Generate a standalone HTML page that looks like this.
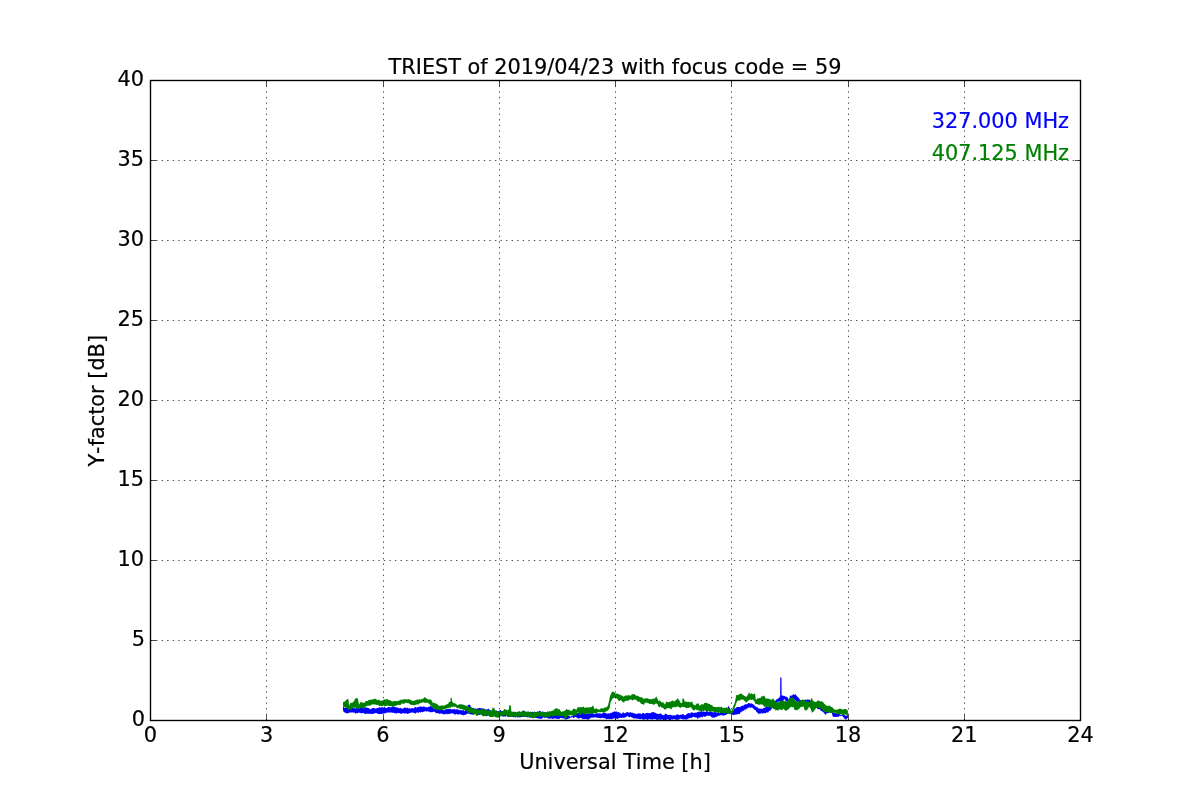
<!DOCTYPE html><html><head><meta charset="utf-8"><style>html,body{margin:0;padding:0;background:#fff;}svg{display:block;will-change:transform;}text{font-family:"DejaVu Sans","Liberation Sans",sans-serif;font-kerning:none;stroke:currentColor;stroke-width:0.2px;}</style></head><body><svg width="1200" height="800" viewBox="0 0 1200 800"><rect width="1200" height="800" fill="#fff"/><defs><clipPath id="c"><rect x="150" y="80" width="930" height="640"/></clipPath></defs><g clip-path="url(#c)"><polygon points="342.99,707.03 343.54,706.75 344.64,707.88 345.74,707.39 345.87,707.56 346.84,707.31 347.94,707.64 349.04,706.93 350.14,707.62 351.24,707.29 352.34,708.09 353.44,707.82 353.75,707.82 354.54,708.37 355.64,708.42 356.74,707.55 357.84,707.49 358.94,708.48 360.04,707.83 361.14,707.22 362.24,707.14 363.34,708.56 364.25,707.82 364.44,707.94 365.54,707.15 366.64,707.84 367.74,707.83 367.92,707.82 368.84,708.18 369.50,708.61 369.94,709.26 371.04,709.21 372.14,707.91 373.24,707.90 374.34,708.23 374.75,708.35 375.44,708.71 376.54,708.17 377.64,708.11 378.74,707.66 379.84,706.89 379.99,707.30 380.94,707.82 382.04,706.67 383.14,707.75 384.24,707.05 385.24,707.56 385.34,707.51 386.44,708.21 387.54,707.50 388.64,706.72 389.74,707.23 390.49,707.30 390.84,707.54 391.94,706.63 393.04,706.93 394.14,706.57 395.24,707.36 395.74,707.30 396.34,707.26 397.44,707.70 398.54,707.64 399.64,708.44 400.25,708.35 400.74,707.78 401.84,708.72 402.94,708.63 404.04,707.77 405.14,707.56 405.50,707.56 406.24,708.25 407.34,707.61 408.44,708.60 409.54,708.05 410.64,708.92 410.75,708.61 411.74,708.11 412.84,708.24 413.94,708.45 415.04,706.87 416.00,707.30 416.14,707.74 417.24,707.24 418.34,706.88 419.44,706.73 420.54,706.20 421.25,706.77 421.64,706.41 422.74,706.96 423.84,706.17 424.94,707.03 426.04,707.47 426.50,706.77 427.14,707.40 428.24,707.09 429.34,706.81 430.44,705.70 431.54,706.72 431.75,705.98 432.64,706.65 432.80,707.30 433.74,708.32 434.84,708.88 435.94,709.05 436.99,709.40 437.04,709.43 438.14,709.06 439.24,709.65 440.34,709.42 441.44,709.28 442.24,709.92 442.54,709.33 443.64,710.23 444.74,710.31 445.84,709.02 446.94,708.72 447.49,709.40 448.04,709.04 449.14,708.85 450.24,708.93 451.34,709.52 452.44,709.28 453.54,709.29 454.64,708.95 455.74,709.64 456.84,709.08 457.25,709.40 457.94,709.38 459.04,709.70 460.14,710.58 461.24,709.81 462.34,710.74 462.50,710.45 463.44,710.11 464.54,710.92 465.64,710.11 466.74,710.22 467.22,710.18 467.75,704.41 467.84,704.99 468.94,704.82 469.85,704.67 470.04,704.54 470.90,707.30 471.14,706.86 472.24,708.63 473.34,707.67 474.44,708.57 475.54,710.05 475.62,709.40 476.64,708.44 477.74,708.42 478.84,708.25 479.94,707.82 480.35,708.35 481.04,708.13 481.40,708.08 482.14,708.47 483.24,708.42 484.34,708.48 484.55,709.13 485.44,709.60 486.54,709.59 487.64,709.23 488.74,708.59 488.75,709.13 489.84,709.74 490.94,710.42 491.90,710.71 492.04,710.61 493.14,711.37 494.24,710.76 495.34,711.04 496.44,710.54 497.54,711.32 497.67,711.23 498.64,711.15 499.74,710.55 500.29,709.92 500.84,709.88 501.94,711.64 502.92,711.50 503.04,711.83 504.14,711.38 505.24,711.37 506.34,711.92 507.12,711.50 507.44,711.03 508.54,711.80 509.64,712.00 510.74,711.77 511.84,712.39 512.94,711.86 514.04,711.93 515.14,711.73 516.24,712.76 517.34,711.94 518.44,712.58 519.54,712.23 520.64,713.10 521.74,713.19 522.12,712.55 522.84,710.41 523.17,710.45 523.94,711.32 524.75,710.71 525.04,711.37 525.80,712.55 526.14,711.88 527.24,712.44 528.34,711.69 529.44,712.36 530.54,711.74 531.64,711.93 532.74,711.76 533.84,712.13 534.94,712.38 536.04,712.47 537.14,711.48 538.24,711.76 539.34,710.84 540.44,711.31 540.50,711.50 541.54,712.36 542.64,711.28 543.74,712.59 544.84,712.45 545.94,712.09 547.04,713.00 548.14,712.45 549.24,713.55 550.34,712.51 551.44,712.75 552.54,713.88 553.64,713.61 554.74,713.34 555.84,714.07 556.24,714.12 556.94,713.82 558.04,714.19 558.87,714.12 559.14,714.52 560.24,714.84 561.34,713.79 562.44,714.74 563.54,715.47 564.64,714.83 565.74,715.44 566.74,715.17 566.84,714.59 567.94,716.01 569.04,715.83 570.14,716.54 571.24,716.65 571.25,716.22 572.34,716.34 573.44,714.68 574.54,715.23 575.64,714.01 576.50,714.12 576.74,713.63 577.84,713.05 578.94,712.79 579.12,712.55 580.04,712.86 581.14,713.46 582.24,712.23 583.34,712.65 584.44,713.05 585.54,713.88 586.64,713.62 587.00,713.60 587.74,713.61 588.84,713.99 589.94,713.83 591.04,713.28 592.14,712.98 593.24,713.54 594.34,714.17 595.44,713.74 596.54,712.93 597.50,713.60 597.64,713.49 598.74,713.31 599.84,713.50 600.94,713.40 602.04,713.85 603.14,712.82 604.24,712.83 605.34,713.03 605.90,712.81 606.44,713.59 607.54,713.73 607.99,713.60 608.64,713.34 609.74,713.49 610.84,712.63 611.14,712.55 611.94,713.04 613.04,711.75 613.24,712.02 614.14,711.24 615.24,712.02 615.34,711.50 616.34,711.36 617.44,712.37 618.49,712.02 618.54,712.22 619.64,712.83 620.74,712.97 621.12,713.86 621.84,713.93 622.94,712.30 623.74,712.55 624.04,713.28 625.14,713.31 625.62,712.81 626.24,712.39 627.34,711.91 628.25,712.28 628.44,712.88 629.54,712.38 630.64,711.96 630.87,712.55 631.74,712.80 632.84,712.76 633.50,713.33 633.94,713.22 635.04,713.62 636.14,714.09 637.24,713.97 638.34,713.07 638.75,713.60 639.44,713.53 640.54,713.49 641.64,714.19 642.74,712.78 643.84,713.36 644.00,713.33 644.94,713.91 646.04,713.08 647.14,712.82 648.24,713.21 649.25,713.07 649.34,712.79 650.44,713.59 651.54,712.22 652.64,712.29 653.74,712.00 654.50,712.55 654.84,713.00 655.94,712.81 657.04,714.16 657.12,713.60 658.14,714.08 659.24,714.04 659.75,713.33 660.34,713.38 661.44,713.77 662.37,715.17 662.54,714.94 663.64,715.36 664.74,714.62 664.99,714.12 665.84,713.50 666.94,714.52 668.04,714.90 669.14,715.03 670.24,714.71 670.24,714.38 671.34,715.27 672.44,715.58 673.54,715.20 674.44,715.70 674.64,715.01 675.74,715.50 676.84,714.15 677.59,714.38 677.94,714.24 679.04,715.25 680.14,714.68 680.74,714.65 681.24,714.54 682.34,714.87 682.62,714.12 683.44,714.04 684.54,715.44 685.25,714.91 685.64,715.33 686.74,713.96 687.84,713.36 687.87,713.60 688.94,712.82 690.04,713.79 690.50,713.07 691.14,712.54 692.24,712.16 693.12,712.81 693.34,713.37 694.44,712.82 695.54,712.82 695.75,712.55 696.64,712.81 697.74,711.66 698.37,712.28 698.84,711.53 699.94,711.81 701.00,711.50 701.04,710.82 702.14,711.50 703.24,711.85 704.34,711.73 705.44,711.67 706.25,711.50 706.54,710.84 707.64,711.24 708.74,712.34 709.84,711.29 710.94,712.01 712.04,711.40 713.14,712.84 714.24,711.80 715.34,712.27 716.44,712.59 716.75,712.55 717.54,712.79 718.64,713.01 719.74,712.60 720.84,711.91 721.94,711.39 723.04,712.23 724.14,712.52 725.24,710.97 726.34,712.00 727.24,711.50 727.44,709.95 728.29,705.72 728.54,706.07 729.64,707.99 729.87,708.35 730.74,710.25 731.44,711.50 731.84,712.43 732.49,712.02 732.94,711.53 734.04,709.16 734.59,708.35 735.14,708.40 736.24,707.47 736.69,707.30 737.34,707.11 738.44,706.94 739.54,707.04 740.12,707.00 740.64,706.47 741.74,705.97 742.84,705.39 743.25,705.75 743.94,705.25 745.04,704.37 746.14,704.52 746.38,703.88 747.24,704.14 748.34,703.05 749.44,703.14 749.50,702.94 750.54,703.85 751.64,703.37 752.62,703.88 752.74,704.05 753.84,704.76 754.94,705.95 755.75,706.38 756.04,707.24 757.14,706.67 758.24,708.57 758.88,708.25 759.34,708.54 760.44,708.85 761.54,708.72 762.00,708.56 762.64,708.93 763.74,707.78 764.84,708.02 765.12,707.62 765.94,706.87 767.04,706.68 768.14,706.39 768.25,706.06 769.24,705.37 770.34,704.88 770.75,705.44 771.44,705.13 772.54,703.97 773.64,702.56 774.50,701.38 774.74,700.92 775.84,700.54 776.94,698.80 777.62,698.88 778.04,698.71 779.14,697.48 780.12,696.38 780.24,679.77 780.25,677.62 781.34,677.55 781.50,677.62 781.62,695.75 782.44,695.34 783.54,696.09 783.88,695.75 784.64,696.00 785.74,696.86 786.84,696.73 787.00,697.00 787.94,697.94 788.88,700.12 789.04,699.58 790.12,695.44 790.14,695.62 791.24,695.74 792.34,695.36 793.25,694.50 793.44,693.84 794.54,694.91 795.64,694.14 795.88,694.50 796.74,695.94 797.75,697.00 797.84,696.93 798.94,698.22 800.04,699.84 800.25,700.12 801.14,700.11 802.24,700.27 803.34,700.11 804.44,700.09 805.54,699.57 806.64,699.93 807.74,699.36 808.84,699.67 809.00,699.50 809.94,699.96 811.04,700.73 812.14,700.52 813.24,701.85 814.34,702.04 814.62,702.62 815.44,703.27 816.54,703.90 817.64,705.87 818.74,707.33 819.00,707.00 819.84,707.28 820.94,707.57 822.04,709.00 823.14,708.92 824.24,710.73 825.25,710.75 825.34,710.19 826.44,710.66 827.54,710.97 828.64,710.52 829.74,710.93 830.84,710.97 831.50,711.38 831.94,711.87 833.04,712.72 834.14,712.22 835.24,713.31 836.34,712.77 837.44,713.87 837.75,713.88 838.54,713.93 839.64,713.93 840.74,714.95 841.84,715.06 842.94,714.36 844.00,715.12 844.04,714.81 845.14,715.60 846.24,715.86 847.34,715.29 848.06,715.12 848.06,718.25 847.75,718.25 847.34,717.80 846.24,719.68 845.88,719.50 845.14,719.34 844.04,718.18 844.00,718.25 842.94,716.56 841.84,715.66 841.50,715.75 840.74,715.91 839.64,715.73 838.54,716.96 837.75,716.38 837.44,716.69 836.34,717.09 835.24,716.88 834.14,716.84 833.04,716.72 832.75,716.38 831.94,713.36 831.50,712.62 830.84,713.09 829.74,712.32 828.64,713.29 828.38,712.62 827.54,713.25 826.44,713.55 825.34,715.15 825.25,714.50 824.24,713.26 823.14,712.06 822.12,711.38 822.04,711.29 820.94,710.71 819.84,709.33 819.00,708.88 818.74,709.35 817.64,708.94 816.54,707.40 815.88,707.62 815.44,707.23 814.34,706.93 813.24,706.92 812.75,707.00 812.14,706.59 811.04,706.95 809.94,706.52 808.84,706.36 807.74,705.46 806.64,706.28 806.50,705.75 805.54,706.20 804.44,704.73 803.34,705.60 802.24,704.59 801.14,703.94 800.25,704.50 800.04,705.10 799.00,703.88 798.94,703.73 797.84,701.90 797.12,701.38 796.74,701.92 795.64,700.42 794.54,699.44 793.44,699.13 793.25,699.50 792.34,699.26 791.24,700.13 790.14,699.21 790.12,699.50 789.04,701.78 788.25,703.25 787.94,702.38 787.00,701.38 786.84,701.50 785.74,700.98 784.64,698.98 784.50,699.50 783.54,699.75 782.44,701.20 781.34,701.68 780.75,701.38 780.24,701.15 779.14,701.55 778.04,702.02 777.62,701.38 776.94,702.86 775.84,703.62 774.74,705.86 774.50,705.75 773.64,707.13 772.54,707.52 771.44,709.09 771.38,708.88 770.34,710.72 769.24,710.80 768.25,712.62 768.14,712.66 767.04,712.26 765.94,712.87 765.12,713.56 764.84,713.27 763.74,712.69 762.64,714.00 762.00,713.25 761.54,712.78 760.44,713.80 759.34,713.61 758.88,714.50 758.24,713.21 757.14,712.56 756.04,711.13 755.75,710.12 754.94,710.22 753.84,709.36 752.74,707.86 752.62,707.94 751.64,707.14 750.54,708.11 749.50,707.31 749.44,706.73 748.34,708.04 747.24,708.31 746.38,708.88 746.14,709.67 745.04,709.35 743.94,710.47 743.25,710.75 742.84,711.32 741.74,711.52 740.64,712.19 740.12,713.25 739.54,714.21 738.44,713.66 737.74,714.38 737.34,714.30 736.24,714.46 735.14,714.54 735.12,714.65 734.04,715.07 732.94,715.14 732.49,714.38 731.84,714.45 730.74,713.86 729.87,713.60 729.64,713.45 728.54,713.47 727.44,713.80 727.24,714.12 726.34,714.70 725.24,714.88 724.62,715.70 724.14,715.02 723.04,715.80 721.99,715.17 721.94,714.81 720.84,715.17 719.74,715.54 718.64,715.67 717.54,716.37 716.75,716.75 716.44,716.80 715.34,717.29 714.24,717.74 714.12,717.80 713.14,717.54 712.04,717.80 711.50,717.27 710.94,716.40 710.45,715.70 709.84,715.77 708.74,716.04 707.64,715.44 706.54,715.82 706.25,716.22 705.44,716.85 704.34,716.85 703.24,716.22 702.14,717.41 701.04,716.49 701.00,717.01 699.94,717.77 698.84,717.48 697.74,718.91 697.32,718.58 696.64,717.49 695.75,717.27 695.54,717.52 694.44,717.28 693.34,716.83 692.24,717.21 691.14,718.47 690.50,717.80 690.04,717.71 688.94,718.23 687.87,719.11 687.84,718.40 686.74,719.73 685.64,719.26 685.25,719.37 684.54,719.13 683.44,719.49 682.62,719.11 682.34,719.14 681.24,718.76 680.14,718.49 679.04,719.53 677.94,719.71 676.84,719.79 675.74,719.66 674.64,718.97 673.54,719.32 672.44,719.44 671.34,719.14 670.24,720.31 669.14,720.31 668.04,719.09 666.94,719.60 665.84,719.91 664.99,719.90 664.74,719.59 663.64,720.61 662.54,719.16 661.44,719.45 660.34,719.82 659.75,719.90 659.24,719.15 658.14,719.64 657.04,720.05 655.94,719.31 654.84,719.05 654.50,719.37 653.74,718.99 652.64,719.40 651.54,719.40 650.44,719.27 649.34,719.03 648.24,719.49 647.14,720.04 646.04,718.72 644.94,719.70 644.00,719.37 643.84,719.71 642.74,719.55 641.64,718.75 640.54,719.30 639.44,718.96 638.75,718.85 638.34,719.06 637.24,718.54 636.14,718.77 635.04,718.17 633.94,718.55 633.50,718.58 632.84,717.90 631.74,717.24 630.87,717.27 630.64,716.50 629.54,717.38 628.44,716.75 628.25,716.48 627.34,716.02 626.24,717.10 625.62,716.75 625.14,717.46 624.04,718.09 623.74,718.06 622.94,717.42 621.84,718.09 620.74,717.79 619.64,718.11 618.54,718.21 618.49,718.58 617.44,719.01 616.39,718.85 616.34,718.31 615.24,718.74 614.29,718.06 614.14,718.34 613.04,718.79 611.94,719.09 610.84,719.18 610.62,718.85 609.74,719.23 608.64,718.92 607.54,719.09 606.94,719.11 606.44,719.39 605.34,718.15 604.24,718.26 603.14,718.10 602.75,717.80 602.04,717.82 600.94,718.09 600.12,718.58 599.84,718.32 598.74,717.85 597.64,717.76 597.50,717.80 596.54,717.65 595.44,717.14 594.34,717.54 593.24,717.61 592.25,717.80 592.14,717.40 591.04,717.65 589.94,718.51 588.84,719.21 587.74,719.71 587.00,719.37 586.64,718.88 585.54,719.17 584.44,719.05 583.34,719.17 582.24,719.01 581.75,718.32 581.14,717.96 580.04,717.70 578.94,718.86 578.07,718.58 577.84,718.16 576.74,717.41 576.50,717.53 575.64,716.94 574.54,717.30 573.44,718.19 572.34,716.99 571.25,717.80 571.24,717.61 570.14,717.78 569.04,718.72 568.62,718.58 567.94,718.90 566.84,719.22 565.74,719.14 564.64,719.12 563.54,718.34 562.44,718.18 561.49,718.32 561.34,717.83 560.24,717.91 559.14,719.05 558.04,719.07 556.94,718.53 556.24,718.85 555.84,718.78 554.74,718.34 553.64,718.53 553.62,718.58 552.54,718.95 551.44,718.28 550.34,718.69 549.24,718.45 548.14,718.39 547.04,717.94 545.94,717.26 545.75,717.53 544.84,718.28 543.74,717.18 542.64,717.82 541.54,718.77 540.44,719.02 539.34,718.26 538.40,718.85 538.24,718.86 537.14,718.08 536.04,717.97 535.25,717.80 534.94,717.83 533.84,718.20 532.74,717.10 531.64,716.93 530.54,718.08 529.44,717.36 528.34,717.25 527.24,717.35 526.14,716.99 525.04,716.93 523.94,716.69 522.84,716.91 521.74,716.63 520.64,717.27 519.54,717.50 518.44,717.08 517.34,717.79 516.24,716.58 515.14,716.93 514.04,717.24 512.94,717.12 511.84,716.72 510.74,716.18 509.64,717.02 508.69,716.75 508.54,717.17 507.44,716.39 506.34,715.81 505.24,717.05 504.49,716.22 504.14,716.41 503.04,716.75 501.94,715.68 500.84,715.47 499.74,715.76 498.64,715.98 497.54,716.77 496.44,716.42 495.34,716.00 494.24,715.99 493.99,716.22 493.14,716.28 492.04,716.66 490.94,716.37 489.84,715.50 488.74,714.99 487.64,715.86 486.54,716.21 485.44,715.75 484.34,714.93 483.50,715.17 483.24,714.85 482.14,714.51 481.04,714.25 479.94,715.03 478.84,714.77 477.74,714.67 476.64,714.22 475.62,714.12 475.54,713.80 474.44,713.72 473.34,714.98 473.00,714.65 472.24,714.45 471.14,714.15 470.37,714.38 470.04,714.19 468.94,713.79 467.84,713.35 467.75,713.60 466.74,714.20 465.64,714.76 465.12,714.38 464.54,714.88 463.44,715.43 462.34,714.60 461.45,715.17 461.24,714.67 460.14,714.33 459.04,714.32 457.94,714.50 457.25,714.38 456.84,713.64 455.74,714.48 454.64,714.51 453.54,713.78 452.74,713.33 452.44,713.30 451.34,713.53 450.24,713.57 450.12,713.60 449.14,714.21 448.04,713.65 447.49,714.12 446.94,714.50 445.84,713.55 444.87,714.38 444.74,714.31 443.64,714.49 442.54,713.55 442.24,714.12 441.44,713.49 440.34,713.50 439.62,713.60 439.24,714.26 438.14,712.90 437.04,713.08 436.47,713.60 435.94,713.28 434.84,711.84 433.74,711.88 433.32,711.23 432.64,712.31 431.75,712.02 431.54,712.06 430.44,712.59 429.34,711.76 428.24,711.62 427.14,711.20 426.50,711.76 426.04,711.17 424.94,711.30 423.84,711.65 422.74,711.98 421.64,712.29 421.25,711.76 420.54,712.63 419.44,711.67 418.34,713.15 417.24,712.35 416.14,712.79 416.00,713.07 415.04,713.76 413.94,712.68 412.84,712.62 411.74,712.40 410.75,712.81 410.64,712.86 409.54,713.07 408.44,713.64 408.12,713.86 407.34,714.07 406.24,713.31 405.50,713.07 405.14,713.66 404.04,713.60 402.94,712.71 401.84,714.11 400.74,713.39 400.25,713.60 399.64,712.89 398.54,713.36 397.44,712.76 396.34,713.75 395.24,713.13 394.14,712.97 393.12,712.55 393.04,713.08 391.94,712.49 390.84,712.46 389.74,712.70 388.64,712.25 387.87,712.81 387.54,712.60 386.44,712.78 385.34,713.21 384.24,713.61 383.14,713.21 382.62,713.60 382.04,714.09 380.94,713.89 379.84,713.97 378.74,713.94 377.64,714.08 377.37,713.60 376.54,712.88 375.44,713.24 374.75,712.81 374.34,713.44 373.24,713.93 372.14,714.07 372.12,713.60 371.04,714.17 369.94,713.44 368.84,713.90 367.74,713.47 367.40,714.12 366.64,713.53 365.54,714.18 364.44,713.48 364.25,713.60 363.34,712.95 362.24,713.14 361.14,713.23 360.04,712.99 359.00,712.55 358.94,712.16 357.84,713.32 356.74,713.11 355.64,713.80 355.32,713.60 354.54,712.58 353.44,712.73 352.34,712.18 351.24,712.70 351.12,712.02 350.14,712.63 349.04,712.72 347.94,712.97 347.45,713.60 346.84,713.51 345.74,713.10 344.82,712.28 344.64,712.82 343.54,711.55 342.99,710.45" fill="#0000ff"/><polygon points="342.99,702.05 343.54,701.92 344.64,701.70 344.82,701.00 345.74,700.77 346.84,699.18 347.45,699.16 347.94,698.98 348.50,699.42 349.02,705.20 349.04,705.74 350.07,703.62 350.14,702.84 351.24,703.33 351.65,702.57 352.34,702.67 353.44,701.63 353.75,701.52 354.54,700.04 355.64,698.36 355.85,698.37 356.37,698.11 356.74,697.92 357.84,698.76 357.95,698.90 358.94,704.35 359.00,704.67 360.04,703.06 361.10,701.26 361.14,702.04 362.24,702.65 362.67,702.57 363.34,702.76 364.25,702.57 364.44,703.19 365.54,701.37 366.64,700.63 366.87,701.00 367.74,700.91 368.84,699.72 369.50,700.21 369.94,699.38 371.04,699.77 372.12,699.42 372.14,699.37 373.24,699.60 374.34,698.73 374.75,698.37 375.44,698.88 376.54,699.62 377.37,700.21 377.64,699.88 378.74,699.75 379.84,700.24 379.99,700.73 380.94,701.02 382.04,700.29 382.62,700.73 383.14,700.28 384.24,699.18 385.24,699.42 385.34,699.92 386.44,698.90 387.54,699.07 387.87,699.42 388.64,700.22 389.74,700.00 390.49,700.21 390.84,700.90 391.94,701.14 393.04,701.84 393.12,701.52 394.14,700.71 395.24,701.16 395.74,701.00 396.34,701.01 397.44,701.55 397.62,701.00 398.54,700.52 399.64,700.54 400.25,700.21 400.74,699.45 401.84,699.72 402.87,699.69 402.94,699.41 404.04,698.93 405.14,699.71 405.50,699.16 406.24,698.91 407.34,699.69 408.12,698.90 408.44,699.13 409.54,699.48 410.64,699.86 410.75,699.69 411.74,700.69 412.84,700.73 412.85,701.26 413.94,700.81 415.04,700.14 416.00,700.21 416.14,700.02 417.24,699.23 418.34,700.21 418.62,699.42 419.44,699.00 420.54,699.68 421.25,699.42 421.64,698.86 422.74,698.99 423.84,697.94 424.40,697.32 424.94,696.97 426.04,698.46 426.50,698.11 427.14,699.03 428.24,699.41 429.12,699.16 429.34,699.39 430.44,699.42 431.54,700.15 431.75,700.73 432.64,702.38 433.74,703.05 433.85,703.10 434.84,702.78 435.94,704.02 436.99,703.62 437.04,703.88 438.14,705.01 439.09,705.98 439.24,705.79 440.34,705.75 441.44,705.40 442.24,705.72 442.54,704.97 443.64,706.01 444.74,705.17 444.87,705.20 445.84,704.88 446.94,704.10 447.49,704.15 448.04,703.98 449.14,701.79 449.59,702.05 450.24,701.86 450.38,702.05 450.64,698.11 451.34,697.41 451.69,698.11 452.22,702.05 452.44,701.58 453.54,703.32 454.62,703.10 454.64,703.34 455.74,703.77 456.84,704.68 457.25,704.93 457.94,705.29 459.04,704.16 459.87,704.15 460.14,704.31 461.24,704.56 462.34,704.18 462.50,704.41 463.44,704.63 464.54,705.21 465.12,704.93 465.64,705.91 466.74,705.54 467.75,706.77 467.84,707.44 468.94,706.27 470.04,707.61 470.37,707.30 471.14,708.07 472.24,707.50 473.00,708.35 473.34,708.26 474.44,708.96 475.54,707.87 475.62,708.61 476.64,709.21 477.74,709.89 478.25,709.66 478.84,709.62 479.94,709.83 480.87,709.40 481.04,708.99 482.14,708.94 483.24,709.19 483.50,709.40 484.34,709.08 485.44,709.55 486.12,709.92 486.54,710.64 487.64,710.18 488.74,709.94 488.75,710.18 489.84,709.92 490.94,711.03 492.04,710.35 492.16,710.45 492.42,707.30 493.14,708.14 493.99,707.56 494.24,708.19 495.04,710.18 495.34,710.30 496.44,711.20 497.54,711.30 497.67,710.97 498.64,711.21 499.74,711.12 500.84,711.93 501.87,711.50 501.94,711.30 503.04,710.96 503.97,709.40 504.14,708.78 505.24,709.50 506.34,709.82 507.12,709.92 507.44,710.55 508.54,709.35 508.96,709.66 509.22,704.93 509.64,705.46 510.74,705.45 510.84,705.20 511.36,711.23 511.84,711.65 512.94,711.71 514.04,712.43 514.25,711.76 515.14,711.77 516.24,712.20 516.87,712.55 517.34,711.92 518.44,711.25 519.50,711.50 519.54,711.06 520.64,711.89 521.74,711.56 522.12,710.97 522.84,710.53 523.94,711.49 524.75,711.50 525.04,711.46 526.14,711.64 527.24,711.73 527.37,711.50 528.34,711.30 529.44,712.39 530.00,711.76 530.54,711.87 531.64,712.44 532.62,712.55 532.74,712.73 533.84,711.83 534.94,711.43 535.25,712.02 536.04,711.81 537.14,712.23 537.87,711.76 538.24,712.19 539.34,711.96 540.44,710.92 540.50,711.50 541.54,712.12 542.64,711.95 543.12,711.50 543.74,712.31 544.84,712.22 545.75,712.55 545.94,713.13 547.04,711.61 548.14,711.36 548.37,712.02 549.24,711.13 550.34,711.26 550.99,711.50 551.44,710.94 552.54,710.41 553.62,710.45 553.64,710.53 554.74,708.86 555.84,708.81 556.24,708.35 556.94,708.05 558.04,709.15 558.87,709.13 559.14,708.72 560.24,710.39 560.97,711.50 561.34,712.09 562.44,711.31 563.54,711.54 564.12,710.97 564.64,710.82 565.74,709.92 566.22,709.40 566.84,709.07 567.94,709.88 568.62,709.92 569.04,709.31 570.14,710.68 571.24,711.13 571.25,710.45 572.34,710.16 573.35,708.87 573.44,708.23 574.54,709.03 575.64,709.36 576.50,709.92 576.74,708.82 577.84,707.21 578.07,706.51 578.94,707.39 579.65,707.30 580.04,706.92 581.14,707.47 581.75,706.77 582.24,707.32 583.34,706.53 584.37,707.30 584.44,707.70 585.54,707.99 586.64,707.07 587.00,707.56 587.74,707.60 588.84,707.58 589.62,707.30 589.94,707.46 591.04,706.69 591.98,707.30 592.14,706.62 592.25,705.72 593.24,705.67 593.30,705.46 594.34,709.33 594.35,708.87 595.44,709.05 596.45,708.35 596.54,708.12 597.64,709.13 598.55,709.13 598.74,709.66 599.84,709.56 600.94,708.33 602.04,707.99 602.75,708.61 603.14,708.67 604.24,707.56 605.34,707.62 605.90,707.30 606.44,707.56 607.54,705.88 607.99,705.72 608.64,702.46 609.04,701.00 609.74,697.47 610.09,695.75 610.84,694.50 611.67,692.60 611.94,691.80 612.72,691.81 613.04,691.79 614.14,691.97 614.29,692.60 615.24,693.47 615.87,693.65 616.34,694.07 617.44,693.20 617.44,693.39 618.49,694.17 618.54,694.00 619.64,694.80 620.74,694.87 621.12,695.49 621.84,695.47 622.94,696.14 623.74,696.80 624.04,696.58 625.14,695.42 626.24,695.84 626.67,695.22 627.34,695.45 628.44,695.22 629.54,695.07 629.82,695.75 630.64,695.85 631.74,694.51 632.84,694.12 633.50,694.44 633.94,694.10 635.04,694.58 636.12,695.75 636.14,696.36 637.24,695.62 638.34,695.90 638.75,696.27 639.44,697.05 640.54,697.17 641.37,697.32 641.64,696.99 642.74,697.91 643.84,699.13 644.00,698.64 644.94,698.35 646.04,698.75 646.62,698.37 647.14,697.82 648.24,698.88 649.25,698.64 649.34,699.07 650.44,699.36 651.54,699.35 651.87,699.16 652.64,698.89 653.74,698.32 654.50,698.90 654.84,698.36 655.94,696.88 656.07,696.27 657.04,697.74 657.12,698.37 658.14,700.05 658.70,701.52 659.24,700.90 659.75,700.21 660.34,701.11 661.44,702.33 662.37,702.57 662.54,702.11 663.64,702.86 664.74,704.44 664.99,704.15 665.84,702.82 666.57,701.26 666.94,701.63 668.04,702.15 669.14,702.18 669.19,701.52 670.24,701.69 671.34,701.22 672.34,700.47 672.44,700.36 673.54,701.28 674.44,701.52 674.64,700.84 675.74,700.51 676.84,699.32 677.59,698.11 677.94,698.87 678.64,699.42 679.04,700.03 680.14,701.85 680.74,703.10 681.24,702.98 682.10,703.10 682.34,700.14 682.62,698.11 683.44,698.83 683.67,698.37 684.54,701.02 684.72,701.52 685.64,701.43 686.74,701.76 687.84,702.11 687.87,701.78 688.94,701.71 690.04,702.50 690.50,702.05 691.14,702.25 692.07,701.00 692.24,701.40 693.12,704.67 693.34,704.13 694.44,705.06 695.54,705.41 695.75,704.67 696.64,703.61 697.74,703.80 698.37,703.10 698.84,704.36 699.94,706.33 699.95,705.72 701.04,704.61 702.14,704.01 702.57,704.41 703.24,704.86 704.34,703.08 705.44,702.70 706.25,702.83 706.54,703.06 707.64,703.31 708.74,704.21 708.87,703.88 709.84,703.81 710.94,705.33 711.50,704.93 712.04,704.94 713.14,706.65 714.12,707.03 714.24,706.41 715.34,707.24 716.44,706.80 716.75,707.56 717.54,707.04 718.64,706.71 719.37,706.77 719.74,707.17 720.84,707.00 721.94,706.62 721.99,707.30 723.04,708.04 724.14,707.88 724.62,707.30 725.24,708.04 726.34,707.26 727.24,707.82 727.44,707.78 728.54,708.19 729.64,708.69 729.87,709.40 730.74,709.56 731.44,710.97 731.84,710.19 732.49,708.87 732.94,707.12 734.04,704.27 734.07,704.67 735.14,700.94 735.64,698.37 736.17,695.22 736.24,695.20 737.34,694.75 737.74,695.22 738.44,695.09 739.54,693.88 740.64,693.67 740.75,693.56 741.74,693.85 742.84,694.89 743.25,695.12 743.94,695.73 745.04,696.25 746.14,696.70 746.38,697.00 747.24,695.82 748.34,693.88 748.88,692.31 749.44,692.81 750.12,694.50 750.54,693.75 751.64,693.16 752.00,693.56 752.74,694.28 753.84,694.22 754.94,693.16 755.12,693.56 755.75,699.50 756.04,700.09 757.14,698.51 758.24,698.51 758.88,698.25 759.34,698.02 760.44,698.09 761.54,696.23 762.00,696.69 762.64,695.99 763.74,695.68 763.88,695.44 764.84,696.55 765.75,698.88 765.94,698.43 767.04,698.50 768.14,698.85 768.25,698.25 769.24,699.04 770.34,699.58 771.38,699.50 771.44,699.85 772.54,699.04 773.25,698.25 773.64,699.31 774.74,700.57 775.75,701.69 775.84,702.08 776.94,701.98 777.62,702.62 778.04,701.92 779.14,702.25 780.24,700.82 780.75,701.06 781.34,701.57 782.44,700.87 783.54,700.25 783.88,700.44 784.64,701.40 785.74,700.66 786.84,701.64 787.00,701.69 787.94,699.86 789.04,699.74 790.12,697.62 790.14,697.74 791.24,698.08 792.34,697.30 793.25,697.62 793.44,698.29 794.54,699.38 795.64,700.54 796.74,702.24 797.12,702.00 797.84,701.54 798.94,700.97 800.04,700.83 800.25,700.44 801.14,700.67 802.24,699.59 803.34,699.77 803.38,699.50 804.44,699.70 805.54,700.87 806.50,701.38 806.64,701.81 807.74,700.97 808.84,702.18 809.62,702.00 809.94,700.52 811.04,699.30 811.19,698.25 812.12,698.25 812.14,698.25 812.75,700.75 813.24,700.81 814.34,701.72 815.44,701.86 815.88,702.00 816.54,701.79 817.64,699.91 817.75,700.44 818.74,700.74 819.84,700.97 820.94,701.77 822.04,700.67 822.12,701.38 823.14,702.32 824.00,703.25 824.24,703.71 825.34,704.83 826.44,705.35 826.50,706.06 827.54,706.07 828.64,705.38 829.00,705.75 829.74,705.57 830.84,707.01 831.50,706.69 831.94,706.63 833.04,708.00 834.14,709.44 834.62,709.50 835.24,709.81 836.34,709.58 837.44,709.96 837.75,709.50 838.54,709.06 839.64,708.74 840.25,708.25 840.74,708.97 841.84,709.31 842.75,709.50 842.94,709.67 844.04,709.04 845.14,708.99 845.25,708.88 846.24,709.21 847.34,710.28 847.75,710.12 848.06,714.50 848.06,714.50 847.34,715.22 847.12,714.50 846.24,715.20 845.14,714.20 844.04,714.63 844.00,715.12 842.94,714.63 841.84,714.69 840.88,713.88 840.74,714.37 839.64,714.41 838.54,713.79 837.75,714.50 837.44,713.66 836.34,714.24 835.24,712.26 834.62,712.62 834.14,712.65 833.04,712.84 831.94,713.10 831.50,712.62 830.84,713.30 829.74,712.75 828.64,712.27 827.54,712.03 826.50,712.62 826.44,712.77 825.34,712.11 824.24,711.76 824.00,711.38 823.14,710.96 822.12,709.50 822.04,708.83 820.94,708.54 819.84,707.88 819.00,707.62 818.74,708.28 817.64,707.38 816.54,707.52 815.88,708.25 815.44,709.18 814.34,710.25 814.00,711.38 813.24,711.43 812.14,712.82 812.12,713.25 811.04,709.82 809.94,707.51 809.62,707.00 808.84,707.18 807.74,709.09 806.64,710.58 806.50,710.12 805.54,710.82 804.62,710.12 804.44,709.18 803.38,706.38 803.34,705.65 802.24,707.14 801.14,706.83 800.25,707.62 800.04,707.74 799.00,708.88 798.94,709.58 797.84,709.33 797.12,710.75 796.74,710.01 795.64,710.15 794.54,709.69 794.50,710.12 793.44,706.83 793.25,707.00 792.34,707.30 791.24,706.81 790.75,707.62 790.14,707.34 789.04,708.65 788.25,709.50 787.94,709.41 786.84,710.51 785.75,710.75 785.74,710.89 784.64,709.95 783.54,708.40 783.25,708.88 782.44,709.69 781.34,709.93 780.24,709.54 779.50,709.50 779.14,709.30 778.04,710.72 776.94,709.90 775.84,710.35 775.75,710.75 774.74,708.78 774.50,708.88 773.64,709.41 772.54,707.85 771.44,708.57 771.38,708.25 770.34,707.32 769.24,707.53 768.25,707.00 768.14,707.16 767.04,706.77 765.94,706.63 764.84,707.12 764.50,707.00 763.74,706.09 762.64,704.44 762.00,704.50 761.54,704.70 760.44,704.19 759.34,704.88 758.88,704.50 758.24,704.80 757.14,703.91 756.04,704.03 755.75,704.50 754.94,702.67 754.50,701.38 753.84,700.45 752.74,699.42 752.62,699.50 751.64,700.09 750.54,699.62 749.50,700.12 749.44,699.84 748.34,700.66 747.24,701.53 746.38,702.62 746.14,702.84 745.04,701.54 743.94,700.28 743.25,699.50 742.84,700.00 741.74,699.30 740.64,699.74 740.12,700.44 739.54,700.45 738.44,700.59 737.34,700.90 737.22,701.00 736.24,703.41 736.17,703.62 735.14,706.76 734.59,707.82 734.04,708.89 732.94,711.41 732.49,712.55 731.84,714.08 730.92,714.65 730.74,714.27 729.87,713.60 729.64,714.22 728.54,713.99 727.44,713.04 727.24,713.07 726.34,712.67 725.24,713.71 724.14,713.50 723.04,713.29 721.99,712.81 721.94,712.67 720.84,713.16 719.74,712.07 718.64,713.22 717.54,712.63 716.75,712.28 716.44,712.59 715.34,712.17 714.24,711.85 713.14,711.85 712.04,710.93 711.50,711.50 710.94,711.64 709.84,712.04 708.74,710.66 707.64,711.96 706.54,711.00 706.25,711.23 705.44,710.58 704.34,710.54 703.24,711.69 702.14,710.47 701.04,711.27 701.00,710.97 699.94,711.47 698.84,709.99 698.37,710.45 697.74,710.16 696.64,710.07 695.75,709.40 695.54,708.93 694.44,710.44 693.34,710.27 693.12,710.18 692.24,709.12 691.14,707.46 690.50,707.30 690.04,707.06 688.94,708.12 687.87,708.08 687.84,707.79 686.74,708.37 685.64,707.99 685.25,707.30 684.54,707.01 683.44,707.32 682.62,706.77 682.34,706.79 681.24,707.18 680.74,707.82 680.14,707.96 679.04,706.89 678.12,706.77 677.94,706.11 676.84,706.70 675.74,707.38 675.49,707.30 674.64,707.08 673.54,707.24 672.87,707.30 672.44,707.39 671.34,709.17 671.29,709.66 670.24,708.87 670.24,708.20 669.14,708.33 668.04,707.89 667.62,708.35 666.94,708.19 665.84,709.25 664.99,709.66 664.74,709.71 663.94,708.87 663.64,708.60 662.54,707.43 661.44,707.76 660.80,706.77 660.34,706.16 659.24,707.58 658.70,707.30 658.14,705.71 657.12,703.62 657.04,704.10 655.94,703.28 654.84,704.45 654.50,704.15 653.74,704.95 652.64,704.11 651.87,704.41 651.54,703.77 650.44,703.89 649.34,704.02 649.25,703.62 648.24,703.25 647.14,702.76 646.62,702.57 646.04,702.49 644.94,703.11 644.00,704.41 643.84,705.03 642.74,704.24 641.64,703.71 641.37,704.15 640.54,703.06 639.44,701.53 638.75,701.52 638.34,701.89 637.24,701.14 636.14,699.47 636.12,699.95 635.04,699.57 633.94,699.35 633.50,699.95 632.84,700.45 631.74,700.07 630.87,699.42 630.64,698.93 629.54,700.05 628.44,700.68 628.25,700.47 627.34,700.72 626.24,700.68 625.62,701.00 625.14,701.06 624.04,702.18 623.74,702.57 622.94,702.28 621.84,701.11 621.12,700.47 620.74,699.93 619.64,700.95 618.54,700.65 618.49,700.47 617.44,698.91 616.39,698.37 616.34,698.34 615.24,698.21 614.29,697.85 614.14,697.47 613.04,698.55 612.19,698.90 611.94,699.87 610.84,701.75 610.62,702.05 609.74,707.72 609.57,708.35 608.64,709.70 607.99,710.45 607.54,710.41 606.44,711.45 605.90,711.50 605.34,711.80 604.24,712.73 603.14,712.52 602.75,712.55 602.04,711.92 600.94,712.03 599.84,712.38 598.74,711.86 597.64,712.28 597.50,712.55 596.54,713.44 595.44,712.89 594.34,713.13 593.24,713.87 592.25,713.60 592.14,713.25 591.04,713.08 589.94,714.22 588.84,713.74 587.74,714.08 587.00,714.12 586.64,713.34 585.54,714.53 584.44,714.41 583.34,713.90 582.24,712.99 581.75,713.60 581.14,714.51 580.04,714.84 579.65,715.17 578.94,714.32 578.07,712.02 577.84,712.01 576.74,714.50 576.50,715.70 575.64,715.53 574.54,715.41 573.87,715.17 573.44,714.83 572.34,715.80 571.25,715.17 571.24,715.53 570.14,714.96 569.04,715.56 568.62,715.70 567.94,715.62 566.84,716.70 566.74,717.27 565.74,719.44 565.69,719.90 564.64,719.37 564.64,718.92 564.12,716.75 563.54,715.99 562.44,716.12 561.49,716.22 561.34,715.89 560.24,716.02 559.14,716.52 558.04,715.83 556.94,715.43 556.24,715.70 555.84,716.08 554.74,715.40 553.64,716.28 552.54,716.76 551.44,715.47 550.99,716.22 550.34,716.18 549.24,716.87 548.14,717.13 547.04,716.83 545.94,717.59 545.75,717.27 544.84,717.29 543.74,717.26 542.64,716.34 541.54,716.97 540.50,716.22 540.44,716.16 539.34,716.56 538.24,716.22 537.14,716.80 536.30,716.75 536.04,717.53 535.25,718.32 534.94,717.94 533.84,717.49 532.74,718.46 531.64,717.85 530.54,716.92 530.00,717.53 529.44,717.47 528.34,716.71 527.24,717.59 526.14,716.40 525.04,717.09 524.75,716.75 523.94,716.32 522.84,717.21 521.74,716.10 520.64,715.90 519.54,716.50 519.50,716.22 518.44,717.05 517.34,716.46 516.24,717.00 515.82,717.53 515.14,717.62 514.25,716.75 514.04,715.98 512.94,716.50 511.84,717.10 510.74,716.76 509.64,717.00 508.54,715.99 507.44,716.89 507.12,716.22 506.34,715.99 505.24,715.55 504.49,715.70 504.14,715.29 503.04,715.44 501.94,715.57 501.87,716.22 500.84,716.18 499.74,717.03 499.24,716.75 498.64,717.68 497.67,717.80 497.54,717.62 496.44,717.59 495.34,717.20 495.04,716.75 494.24,716.16 493.14,717.08 492.04,717.00 491.90,717.27 490.94,716.95 489.84,716.92 488.75,715.70 488.74,715.80 487.64,715.74 486.54,715.50 486.12,715.17 485.44,715.54 484.34,716.44 483.50,715.96 483.24,716.47 482.14,715.86 481.04,714.18 479.94,714.12 479.30,714.12 478.84,713.89 477.74,715.87 477.20,715.70 476.64,716.00 475.62,714.65 475.54,714.18 474.44,714.58 473.34,713.88 473.00,713.60 472.24,713.69 471.14,712.55 470.37,713.07 470.04,713.19 468.94,713.09 467.84,712.69 467.75,712.02 466.74,710.91 465.64,711.23 465.12,710.45 464.54,710.09 463.44,709.63 462.50,709.40 462.34,709.54 461.24,708.67 460.14,709.36 459.04,708.36 457.94,707.98 457.25,708.35 456.84,708.04 455.74,706.71 454.64,706.74 454.62,706.77 453.54,706.57 452.74,707.30 452.44,706.85 451.34,706.73 450.24,708.24 450.12,707.56 449.14,707.63 448.04,707.90 447.49,708.61 446.94,708.18 445.84,708.39 444.87,709.13 444.74,709.40 443.64,709.54 442.54,709.53 442.24,710.18 441.44,710.25 440.34,710.28 439.62,710.45 439.24,709.97 438.14,709.79 437.04,710.08 435.94,709.40 435.94,709.79 434.84,709.02 433.74,708.53 432.80,707.82 432.64,708.25 431.54,706.13 431.22,705.72 430.44,705.54 429.34,704.04 429.12,704.15 428.24,703.07 427.14,702.50 426.50,702.57 426.04,702.89 424.94,702.98 424.40,702.57 423.84,702.55 422.74,702.20 421.64,702.67 421.25,703.10 420.54,703.09 419.44,703.50 418.62,704.15 418.34,704.90 417.24,703.98 416.14,704.84 416.00,704.67 415.04,705.07 413.94,705.41 413.90,705.46 412.84,704.83 411.74,705.12 410.75,704.67 410.64,704.42 409.54,704.16 408.44,702.90 408.12,703.10 407.34,703.37 406.24,702.44 405.50,703.10 405.14,703.09 404.04,703.87 402.94,703.96 402.87,703.62 401.84,703.37 400.74,704.88 400.25,704.67 399.64,705.10 398.54,704.74 397.62,705.20 397.44,704.81 396.34,705.72 395.24,705.84 394.14,706.35 393.12,706.77 393.04,707.14 391.94,706.26 390.84,706.35 390.49,705.72 389.74,706.25 388.64,705.69 387.54,705.42 386.44,705.92 385.34,705.70 385.24,705.98 384.24,706.53 383.14,705.34 382.62,705.98 382.04,706.22 380.94,705.85 379.84,706.36 378.94,705.72 378.74,705.27 377.64,704.88 376.54,705.10 375.80,704.15 375.44,704.87 374.34,704.48 373.24,704.32 372.14,704.59 372.12,704.67 371.04,704.72 369.94,705.97 368.84,705.39 367.92,705.72 367.74,705.50 366.64,706.05 365.82,706.77 365.54,706.58 364.44,708.04 363.72,708.87 363.34,708.71 362.24,708.02 361.62,707.30 361.14,707.79 360.04,708.18 359.00,708.61 358.94,708.73 357.84,709.15 356.74,708.44 356.37,708.61 355.64,707.54 354.54,708.01 353.75,707.30 353.44,707.47 352.34,708.85 351.24,709.82 351.12,709.40 350.14,709.32 349.04,710.10 348.50,709.66 347.94,708.91 346.84,708.17 345.87,707.30 345.74,707.65 344.64,707.02 343.54,706.69 342.99,706.77" fill="#008000"/></g><path d="M266.5 720.5V80.5M383.5 720.5V80.5M499.5 720.5V80.5M615.5 720.5V80.5M731.5 720.5V80.5M848.5 720.5V80.5M964.5 720.5V80.5" stroke="#000" stroke-width="0.69" stroke-dasharray="1.3889 4.1667" fill="none"/><path d="M150.5 640.5H1080.5M150.5 560.5H1080.5M150.5 480.5H1080.5M150.5 400.5H1080.5M150.5 320.5H1080.5M150.5 240.5H1080.5M150.5 160.5H1080.5" stroke="#000" stroke-width="0.69" stroke-dasharray="1.3889 4.1667" fill="none"/><path d="M150.5 720.5v-5.56M150.5 80.5v5.56M266.5 720.5v-5.56M266.5 80.5v5.56M383.5 720.5v-5.56M383.5 80.5v5.56M499.5 720.5v-5.56M499.5 80.5v5.56M615.5 720.5v-5.56M615.5 80.5v5.56M731.5 720.5v-5.56M731.5 80.5v5.56M848.5 720.5v-5.56M848.5 80.5v5.56M964.5 720.5v-5.56M964.5 80.5v5.56M1080.5 720.5v-5.56M1080.5 80.5v5.56M150.5 720.5h5.56M1080.5 720.5h-5.56M150.5 640.5h5.56M1080.5 640.5h-5.56M150.5 560.5h5.56M1080.5 560.5h-5.56M150.5 480.5h5.56M1080.5 480.5h-5.56M150.5 400.5h5.56M1080.5 400.5h-5.56M150.5 320.5h5.56M1080.5 320.5h-5.56M150.5 240.5h5.56M1080.5 240.5h-5.56M150.5 160.5h5.56M1080.5 160.5h-5.56M150.5 80.5h5.56M1080.5 80.5h-5.56" stroke="#000" stroke-width="0.69" fill="none"/><rect x="150.5" y="80.5" width="930" height="640" fill="none" stroke="#000" stroke-width="1.39"/><text x="150.50" y="741.5" font-size="20.83" text-anchor="middle">0</text><text x="266.75" y="741.5" font-size="20.83" text-anchor="middle">3</text><text x="383.00" y="741.5" font-size="20.83" text-anchor="middle">6</text><text x="499.25" y="741.5" font-size="20.83" text-anchor="middle">9</text><text x="615.50" y="741.5" font-size="20.83" text-anchor="middle">12</text><text x="731.75" y="741.5" font-size="20.83" text-anchor="middle">15</text><text x="848.00" y="741.5" font-size="20.83" text-anchor="middle">18</text><text x="964.25" y="741.5" font-size="20.83" text-anchor="middle">21</text><text x="1080.50" y="741.5" font-size="20.83" text-anchor="middle">24</text><text x="144.9" y="725.60" font-size="20.83" text-anchor="end">0</text><text x="144.9" y="645.60" font-size="20.83" text-anchor="end">5</text><text x="143.9" y="565.60" font-size="20.83" text-anchor="end">10</text><text x="143.9" y="485.60" font-size="20.83" text-anchor="end">15</text><text x="143.9" y="405.60" font-size="20.83" text-anchor="end">20</text><text x="143.9" y="325.60" font-size="20.83" text-anchor="end">25</text><text x="143.9" y="245.60" font-size="20.83" text-anchor="end">30</text><text x="143.9" y="165.60" font-size="20.83" text-anchor="end">35</text><text x="143.9" y="85.60" font-size="20.83" text-anchor="end">40</text><text x="615" y="74.4" font-size="20.83" text-anchor="middle">TRIEST of 2019/04/23 with focus code = 59</text><text x="615" y="768.7" font-size="20.83" text-anchor="middle">Universal Time [h]</text><text transform="translate(104.4 400.8) rotate(-90)" font-size="20.83" text-anchor="middle">Y-factor [dB]</text><text x="1069" y="127.6" font-size="20.83" text-anchor="end" fill="#0000ff" style="color:#0000ff">327.000 MHz</text><text x="1069" y="159.5" font-size="20.83" text-anchor="end" fill="#008000" style="color:#008000">407.125 MHz</text></svg></body></html>
